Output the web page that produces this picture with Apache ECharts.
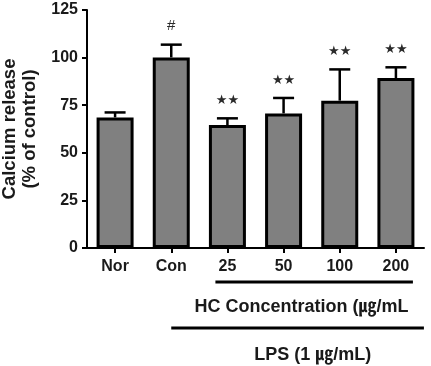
<!DOCTYPE html>
<html><head><meta charset="utf-8">
<script src="https://cdn.jsdelivr.net/npm/echarts@6/dist/echarts.min.js"></script>
<style>html,body{margin:0;padding:0;background:#fff}#c{width:431px;height:366px}</style>
</head><body><div id="c"></div>
<script>
const categories = ['Nor','Con','25','50','100','200'];
const means = [68.6, 100.1, 64.6, 70.7, 77.4, 89.3];
const errUpper = [71.2, 106.8, 68.1, 78.8, 93.8, 94.9];
const marks = ['', '#', '★★', '★★', '★★', '★★'];
const yTicks = [0, 25, 50, 75, 100, 125];

const FONT = '"Liberation Sans", Arial, "Noto Sans CJK SC", sans-serif';
const chart = echarts.init(document.getElementById('c'), null, {renderer:'canvas'});
chart.setOption({
  animation:false,
  grid:{left:87, right:7, top:10, bottom:118, containLabel:false, outerBoundsMode:'none'},
  xAxis:{type:'category', data:categories,
    axisLine:{lineStyle:{color:'#000', width:2}},
    axisTick:{show:true, alignWithLabel:true, length:5, lineStyle:{color:'#000', width:2}},
    axisLabel:{color:'#1a1a1a', fontWeight:'bold', fontSize:16, fontFamily:FONT, margin:11}},
  yAxis:{type:'value', min:0, max:125, interval:25,
    name:'Calcium release\n(% of control)', nameLocation:'middle', nameGap:41,
    nameTextStyle:{color:'#1a1a1a', fontWeight:'bold', fontSize:18.5, fontFamily:FONT, lineHeight:20},
    axisLine:{show:true, lineStyle:{color:'#000', width:2}},
    axisTick:{show:true, length:5, lineStyle:{color:'#000', width:2}},
    splitLine:{show:false},
    axisLabel:{color:'#1a1a1a', fontWeight:'bold', fontSize:16, fontFamily:FONT, margin:9,
      formatter:v=>yTicks.includes(v)?String(v):''}},
  series:[
    {type:'bar', data:means, barWidth:37, z:2,
     itemStyle:{color:'#808080', borderColor:'#000', borderWidth:3}},
    {type:'custom', z:1,
     data:categories.map((c,i)=>[i, means[i], errUpper[i]]),
     renderItem:function(params, api){
       const i = api.value(0);
       const p0 = api.coord([i, api.value(1)]);
       const p1 = api.coord([i, api.value(2)]);
       const hw = 10.5;
       const children = [
         {type:'line', shape:{x1:p0[0], y1:p0[1], x2:p1[0], y2:p1[1]}, style:{stroke:'#000', lineWidth:2.5}},
         {type:'line', shape:{x1:p1[0]-hw, y1:p1[1], x2:p1[0]+hw, y2:p1[1]}, style:{stroke:'#000', lineWidth:2.5}}
       ];
       const m = marks[params.dataIndex];
       if (m) children.push({type:'text', style:{text:m, x:p1[0], y:p1[1]-11, align:'center', verticalAlign:'bottom',
         fill:'#2a2a2a', font: (m==='#'?'15px '+FONT:'13px "DejaVu Sans", sans-serif')}});
       return {type:'group', children};
     }}
  ]
});
const px = i => chart.convertToPixel({xAxisIndex:0}, categories[i]);
const y0 = chart.convertToPixel({yAxisIndex:0}, 0);
const half = 28;
chart.setOption({graphic:[
  {type:'line', shape:{x1:px(2)-12, y1:y0+34, x2:px(5)+17, y2:y0+34}, style:{stroke:'#000', lineWidth:3}},
  {type:'text', style:{text:'HC Concentration (㎍/mL', x:px(2)-33, y:y0+59, verticalAlign:'middle',
    fill:'#1a1a1a', font:'bold 18px '+FONT}},
  {type:'line', shape:{x1:px(1), y1:y0+80, x2:px(5)+half, y2:y0+80}, style:{stroke:'#000', lineWidth:3}},
  {type:'text', style:{text:'LPS (1 ㎍/mL)', x:(px(2)+px(5))/2+1, y:y0+107, align:'center', verticalAlign:'middle',
    fill:'#1a1a1a', font:'bold 18px '+FONT}}
]});
</script></body></html>
